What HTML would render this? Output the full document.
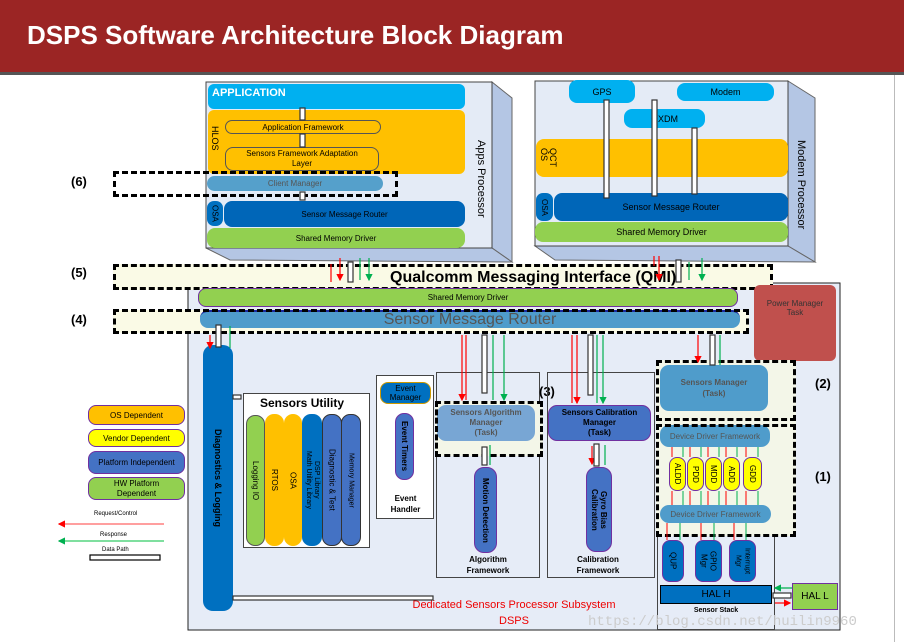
<!DOCTYPE html>
<html><head><meta charset="utf-8"><style>
*{margin:0;padding:0;box-sizing:border-box}
body{width:904px;height:642px;background:#fff;position:relative;overflow:hidden;font-family:"Liberation Sans",sans-serif}
.a{position:absolute}
.c{display:flex;align-items:center;justify-content:center;text-align:center}
.v{writing-mode:vertical-rl}
.dash{position:absolute;border:3px dashed #000}
.lbl{position:absolute;font-weight:bold;font-size:13px}
</style></head><body>
<div class="a" style="left:0;top:0;width:904px;height:72px;background:#9b2524"></div>
<div class="a" style="left:0;top:72px;width:904px;height:3px;background:#555"></div>
<div class="a" style="left:27px;top:20px;color:#fff;font-weight:bold;font-size:26px">DSPS Software Architecture Block Diagram</div>
<div class="a" style="left:894px;top:75px;width:1px;height:567px;background:#bbb"></div>

<svg class="a" style="left:0;top:0" width="904" height="642">
<polygon points="492,82 512,98 512,262 492,248" fill="#b4c6e4" stroke="#666"/>
<polygon points="206,248 230,260 512,262 492,248" fill="#b4c6e4" stroke="#666"/>
<rect x="206" y="82" width="286" height="166" fill="#e4ebf6" stroke="#444"/>
<polygon points="788,81 815,98 815,262 788,246" fill="#b4c6e4" stroke="#666"/>
<polygon points="535,246 555,260 815,262 788,246" fill="#b4c6e4" stroke="#666"/>
<rect x="535" y="81" width="253" height="165" fill="#e4ebf6" stroke="#444"/>
<rect x="188" y="283" width="652" height="347" fill="#e6ecf7" stroke="#222"/>
</svg>

<!-- Apps processor -->
<div class="a" style="left:208px;top:84px;width:257px;height:25px;background:#00b0f0;border-radius:6px;color:#fff;font-weight:bold;font-size:11px;padding:3px 4px">APPLICATION</div>
<div class="a" style="left:208px;top:110px;width:257px;height:64px;background:#ffc000;border-radius:6px"></div>
<div class="a v" style="left:210px;top:126px;font-size:9px">HLOS</div>
<div class="a c" style="left:225px;top:120px;width:156px;height:14px;border:1px solid #555;border-radius:8px;font-size:8px">Application Framework</div>
<div class="a c" style="left:225px;top:147px;width:154px;height:24px;border:1px solid #555;border-radius:8px;font-size:8px;line-height:10px">Sensors Framework Adaptation<br>Layer</div>
<div class="a c" style="left:207px;top:176px;width:176px;height:15px;background:#55a0cb;border-radius:8px;font-size:8px;color:#555">Client Manager</div>
<div class="a c v" style="left:207px;top:201px;width:16px;height:25px;background:#0070c0;border-radius:7px;font-size:8px">OSA</div>
<div class="a c" style="left:224px;top:201px;width:241px;height:26px;background:#0066b8;border-radius:8px;font-size:8px">Sensor Message Router</div>
<div class="a c" style="left:207px;top:228px;width:258px;height:20px;background:#92d050;border-radius:8px;font-size:8px">Shared Memory Driver</div>
<div class="a v" style="left:475px;top:140px;font-size:11px">Apps Processor</div>
<div class="dash" style="left:113px;top:171px;width:285px;height:26px"></div>
<div class="lbl" style="left:71px;top:174px">(6)</div>

<!-- Modem -->
<div class="a c" style="left:569px;top:80px;width:66px;height:23px;background:#00b0f0;border-radius:8px;font-size:9px">GPS</div>
<div class="a c" style="left:677px;top:83px;width:97px;height:18px;background:#00b0f0;border-radius:8px;font-size:9px">Modem</div>
<div class="a c" style="left:624px;top:109px;width:81px;height:19px;background:#00b0f0;border-radius:8px;font-size:9px">QXDM</div>
<div class="a" style="left:536px;top:139px;width:252px;height:38px;background:#ffc000;border-radius:8px"></div>
<div class="a v" style="left:539px;top:148px;font-size:9px;line-height:9px">QCT<br>OS</div>
<div class="a c v" style="left:536px;top:193px;width:17px;height:28px;background:#0070c0;border-radius:7px;font-size:8px">OSA</div>
<div class="a c" style="left:554px;top:193px;width:234px;height:28px;background:#0066b8;border-radius:8px;font-size:9px">Sensor Message Router</div>
<div class="a c" style="left:535px;top:222px;width:253px;height:20px;background:#92d050;border-radius:8px;font-size:9px">Shared Memory Driver</div>
<div class="a v" style="left:795px;top:140px;font-size:11px">Modem Processor</div>

<!-- QMI -->
<div class="a" style="left:113px;top:264px;width:660px;height:26px;background:#fafae6;border:3px dashed #000"></div>
<div class="a" style="left:390px;top:269px;font-weight:bold;font-size:16px;white-space:nowrap">Qualcomm Messaging Interface (QMI)</div>
<div class="lbl" style="left:71px;top:265px">(5)</div>
<div class="a c" style="left:198px;top:288px;width:540px;height:19px;background:#92d050;border-radius:8px;font-size:8px;border:1px solid #7030a0">Shared Memory Driver</div>
<div class="a" style="left:113px;top:310px;width:636px;height:23px;background:#fafae6"></div>
<div class="a c" style="left:200px;top:310px;width:540px;height:18px;background:#4f9ccb;border-radius:8px;font-size:16px;color:#555;border-top:2px solid #1a2aa0">Sensor Message Router</div>
<div class="dash" style="left:113px;top:309px;width:636px;height:25px"></div>
<div class="lbl" style="left:71px;top:312px">(4)</div>
<div class="a c" style="left:754px;top:285px;width:82px;height:76px;background:#c0504d;border-radius:6px;font-size:8px;color:#333;padding-bottom:30px">Power Manager<br>Task</div>

<!-- Legend -->
<div class="a c" style="left:88px;top:405px;width:97px;height:20px;background:#ffc000;border:1px solid #7030a0;border-radius:8px;font-size:8px">OS Dependent</div>
<div class="a c" style="left:88px;top:429px;width:97px;height:18px;background:#ffff00;border:1px solid #7030a0;border-radius:8px;font-size:8px">Vendor Dependent</div>
<div class="a c" style="left:88px;top:451px;width:97px;height:23px;background:#4472c4;border:1px solid #7030a0;border-radius:8px;font-size:8px">Platform Independent</div>
<div class="a c" style="left:88px;top:477px;width:97px;height:23px;background:#92d050;border:1px solid #7030a0;border-radius:8px;font-size:8px;line-height:10px">HW Platform<br>Dependent</div>
<div class="a" style="left:94px;top:511px;font-size:6px">Request/Control</div>
<div class="a" style="left:100px;top:532px;font-size:6px">Response</div>
<div class="a" style="left:102px;top:547px;font-size:6px">Data Path</div>

<!-- DSPS content -->
<div class="a c v" style="left:203px;top:345px;width:30px;height:266px;background:#0070c0;border-radius:10px;font-size:9px;font-weight:bold">Diagnostics &amp; Logging</div>
<div class="a" style="left:243px;top:393px;width:127px;height:155px;background:#fff;border:1px solid #444"></div>
<div class="a" style="left:260px;top:396px;font-weight:bold;font-size:12px">Sensors Utility</div>
<div class="a c v" style="left:246px;top:415px;width:19px;height:131px;background:#92d050;border-radius:9px;font-size:8px;border:1px solid #555">Logging IO</div>
<div class="a c v" style="left:265px;top:414px;width:19px;height:132px;background:#ffc000;border-radius:9px;font-size:8px">RTOS</div>
<div class="a c v" style="left:284px;top:414px;width:18px;height:132px;background:#ffc000;border-radius:9px;font-size:8px">OSA</div>
<div class="a c v" style="left:302px;top:414px;width:20px;height:132px;background:#0070c0;border-radius:9px;font-size:7px;line-height:8px">DSP Library<br>Math Utility Library</div>
<div class="a c v" style="left:322px;top:414px;width:20px;height:132px;background:#4472c4;border-radius:9px;font-size:8px;border:1px solid #333">Diagnostic &amp; Test</div>
<div class="a c v" style="left:341px;top:414px;width:20px;height:132px;background:#4472c4;border-radius:9px;font-size:7px;border:1px solid #333">Memory Manager</div>

<div class="a" style="left:376px;top:375px;width:58px;height:144px;background:#fff;border:1px solid #444"></div>
<div class="a c" style="left:380px;top:382px;width:51px;height:22px;background:#0070c0;border-radius:8px;font-size:8px;line-height:9px;border:1px solid #c90">Event<br>Manager</div>
<div class="a c v" style="left:395px;top:413px;width:19px;height:67px;background:#4472c4;border-radius:9px;font-size:8px;font-weight:bold;border:1px solid #7030a0">Event Timers</div>
<div class="a c" style="left:378px;top:493px;width:55px;font-size:8px;font-weight:bold;line-height:11px">Event<br>Handler</div>

<div class="a" style="left:436px;top:372px;width:104px;height:206px;border:1px solid #444"></div>
<div class="a" style="left:435px;top:401px;width:108px;height:55px;background:#f3f6e8"></div>
<div class="a c" style="left:437px;top:405px;width:98px;height:36px;background:#78a6d4;border-radius:9px;font-size:8px;font-weight:bold;color:#555;line-height:10px">Sensors Algorithm<br>Manager<br>(Task)</div>
<div class="dash" style="left:435px;top:401px;width:108px;height:56px"></div>
<div class="a" style="left:539px;top:384px;font-weight:bold;font-size:13px">(3)</div>
<div class="a c v" style="left:474px;top:467px;width:23px;height:86px;background:#4472c4;border-radius:10px;font-size:8px;font-weight:bold;border:1px solid #7030a0">Motion Detection</div>
<div class="a c" style="left:438px;top:554px;width:100px;font-size:8px;font-weight:bold;line-height:11px">Algorithm<br>Framework</div>

<div class="a" style="left:547px;top:372px;width:108px;height:206px;border:1px solid #444"></div>
<div class="a c" style="left:548px;top:405px;width:103px;height:36px;background:#4472c4;border-radius:9px;font-size:8px;font-weight:bold;line-height:10px;border:1px solid #7030a0">Sensors Calibration<br>Manager<br>(Task)</div>
<div class="a c v" style="left:586px;top:467px;width:26px;height:85px;background:#4472c4;border-radius:10px;font-size:8px;font-weight:bold;line-height:9px;border:1px solid #7030a0">Gyro Bias<br>Calibration</div>
<div class="a c" style="left:548px;top:554px;width:100px;font-size:8px;font-weight:bold;line-height:11px">Calibration<br>Framework</div>

<div class="a" style="left:657px;top:365px;width:118px;height:265px;border:1px solid #444"></div>
<div class="a" style="left:656px;top:360px;width:140px;height:176px;background:#f3f6e8"></div>
<div class="a c" style="left:660px;top:365px;width:108px;height:46px;background:#4f9ccb;border-radius:9px;font-size:8px;font-weight:bold;color:#555;line-height:11px">Sensors Manager<br>(Task)</div>
<div class="dash" style="left:656px;top:360px;width:140px;height:61px"></div>
<div class="lbl" style="left:815px;top:376px">(2)</div>
<div class="a c" style="left:660px;top:425px;width:110px;height:22px;background:#4f9ccb;border-radius:9px;font-size:8px;color:#555">Device Driver Framework</div>
<div class="a c v" style="left:669px;top:457px;width:17px;height:34px;background:#ffff00;border-radius:8px;font-size:8px;border:1px solid #7030a0">ALDD</div>
<div class="a c v" style="left:687px;top:457px;width:17px;height:34px;background:#ffff00;border-radius:8px;font-size:8px;border:1px solid #7030a0">PDD</div>
<div class="a c v" style="left:705px;top:457px;width:17px;height:34px;background:#ffff00;border-radius:8px;font-size:8px;border:1px solid #7030a0">MDD</div>
<div class="a c v" style="left:723px;top:457px;width:17px;height:34px;background:#ffff00;border-radius:8px;font-size:8px;border:1px solid #7030a0">ADD</div>
<div class="a c v" style="left:743px;top:457px;width:19px;height:34px;background:#ffff00;border-radius:8px;font-size:8px;border:1px solid #7030a0">GDD</div>
<div class="a c" style="left:660px;top:505px;width:111px;height:18px;background:#4f9ccb;border-radius:9px;font-size:8px;color:#555">Device Driver Framework</div>
<div class="dash" style="left:656px;top:424px;width:140px;height:113px"></div>
<div class="lbl" style="left:815px;top:469px">(1)</div>
<div class="a c v" style="left:662px;top:540px;width:22px;height:42px;background:#0070c0;border-radius:8px;font-size:8px;border:1px solid #7030a0">QUP</div>
<div class="a c v" style="left:695px;top:540px;width:27px;height:42px;background:#0070c0;border-radius:8px;font-size:8px;line-height:9px;border:1px solid #7030a0">GPIO<br>Mgr</div>
<div class="a c v" style="left:729px;top:540px;width:27px;height:42px;background:#0070c0;border-radius:8px;font-size:7px;line-height:9px;border:1px solid #7030a0">Interrupt<br>Mgr</div>
<div class="a c" style="left:660px;top:585px;width:112px;height:19px;background:#0070c0;border:1px solid #000;font-size:10px">HAL H</div>
<div class="a c" style="left:660px;top:607px;width:112px;font-size:7px;font-weight:bold">Sensor Stack</div>
<div class="a c" style="left:792px;top:583px;width:46px;height:27px;background:#92d050;border:1px solid #7030a0;font-size:10px">HAL L</div>

<div class="a c" style="left:380px;top:597px;width:268px;color:#e00;font-size:11px;line-height:16px">Dedicated Sensors Processor Subsystem<br>DSPS</div>
<div class="a" style="left:588px;top:614px;color:#ccc;font-size:14px;font-family:'Liberation Mono',monospace">https://blog.csdn.net/huilin9960</div>

<svg class="a" style="left:0;top:0" width="904" height="642">
<defs>
<marker id="r" markerWidth="6" markerHeight="6" refX="5" refY="3" orient="auto"><path d="M0,0L6,3L0,6z" fill="#f00"/></marker>
<marker id="g" markerWidth="6" markerHeight="6" refX="5" refY="3" orient="auto"><path d="M0,0L6,3L0,6z" fill="#00b050"/></marker>
</defs>
<g fill="none" stroke-width="1.2">
<line x1="60" y1="524" x2="165" y2="524" stroke="#f66" marker-end="url(#r)" transform="rotate(180 112 524)"/>
<line x1="60" y1="541" x2="165" y2="541" stroke="#3c6" marker-end="url(#g)" transform="rotate(180 112 541)"/>
<rect x="90" y="555" width="70" height="5" stroke="#000" fill="#fff"/>
<g stroke="#f00"><line x1="331" y1="264" x2="331" y2="282"/><line x1="340" y1="258" x2="340" y2="280" marker-end="url(#r)"/>
<line x1="462" y1="335" x2="462" y2="400" marker-end="url(#r)"/><line x1="466" y1="335" x2="466" y2="400"/>
<line x1="572" y1="335" x2="572" y2="403"/><line x1="577" y1="335" x2="577" y2="403" marker-end="url(#r)"/>
<line x1="698" y1="335" x2="698" y2="362" marker-end="url(#r)"/>
<line x1="654" y1="266" x2="654" y2="256"/><line x1="659" y1="256" x2="659" y2="280" marker-end="url(#r)"/>
<line x1="210" y1="335" x2="210" y2="348" marker-end="url(#r)"/>
<line x1="592" y1="446" x2="592" y2="464" marker-end="url(#r)"/>
<line x1="775" y1="603" x2="790" y2="603" marker-end="url(#r)"/></g>
<g stroke="#00b050"><line x1="360" y1="280" x2="360" y2="258"/><line x1="369" y1="258" x2="369" y2="280" marker-end="url(#g)"/>
<line x1="493" y1="335" x2="493" y2="400"/><line x1="504" y1="335" x2="504" y2="400" marker-end="url(#g)"/>
<line x1="597" y1="335" x2="597" y2="403"/><line x1="603" y1="335" x2="603" y2="403" marker-end="url(#g)"/>
<line x1="720" y1="335" x2="720" y2="365"/>
<line x1="689" y1="262" x2="689" y2="280"/><line x1="702" y1="258" x2="702" y2="280" marker-end="url(#g)"/>
<line x1="230" y1="348" x2="230" y2="326"/><line x1="490" y1="465" x2="490" y2="445"/><line x1="605" y1="465" x2="605" y2="445"/>
<line x1="792" y1="588" x2="775" y2="588" marker-end="url(#g)"/></g>
<g stroke="#333" fill="#fff">
<rect x="348" y="262" width="5" height="20"/><rect x="482" y="335" width="5" height="58"/><rect x="588" y="335" width="5" height="60"/>
<rect x="604" y="100" width="5" height="98"/><rect x="692" y="128" width="5" height="66"/><rect x="652" y="100" width="5" height="96"/>
<rect x="676" y="260" width="5" height="22"/><rect x="216" y="325" width="5" height="22"/><rect x="710" y="335" width="5" height="30"/>
<rect x="233" y="596" width="200" height="4"/><rect x="233" y="395" width="8" height="4"/><rect x="773" y="593" width="18" height="5"/>
<rect x="482" y="447" width="5" height="18"/><rect x="594" y="444" width="5" height="22"/>
<rect x="300" y="108" width="5" height="12"/><rect x="300" y="134" width="5" height="13"/><rect x="300" y="192" width="5" height="8"/>
</g>
<g stroke="#f00" stroke-width="1"><line x1="672" y1="447" x2="672" y2="457"/><line x1="690" y1="447" x2="690" y2="457"/><line x1="708" y1="447" x2="708" y2="457"/><line x1="726" y1="447" x2="726" y2="457"/><line x1="746" y1="447" x2="746" y2="457"/>
<line x1="672" y1="491" x2="672" y2="505"/><line x1="690" y1="491" x2="690" y2="505"/><line x1="708" y1="491" x2="708" y2="505"/><line x1="726" y1="491" x2="726" y2="505"/><line x1="746" y1="491" x2="746" y2="505"/>
<line x1="667" y1="523" x2="667" y2="540"/><line x1="701" y1="523" x2="701" y2="540"/><line x1="734" y1="523" x2="734" y2="540"/></g>
<g stroke="#00b050" stroke-width="1"><line x1="683" y1="447" x2="683" y2="457"/><line x1="701" y1="447" x2="701" y2="457"/><line x1="719" y1="447" x2="719" y2="457"/><line x1="737" y1="447" x2="737" y2="457"/><line x1="758" y1="447" x2="758" y2="457"/>
<line x1="683" y1="491" x2="683" y2="505"/><line x1="701" y1="491" x2="701" y2="505"/><line x1="719" y1="491" x2="719" y2="505"/><line x1="737" y1="491" x2="737" y2="505"/><line x1="758" y1="491" x2="758" y2="505"/>
<line x1="680" y1="523" x2="680" y2="540"/><line x1="714" y1="523" x2="714" y2="540"/><line x1="746" y1="523" x2="746" y2="540"/></g>
</g>
</svg>
</body></html>
